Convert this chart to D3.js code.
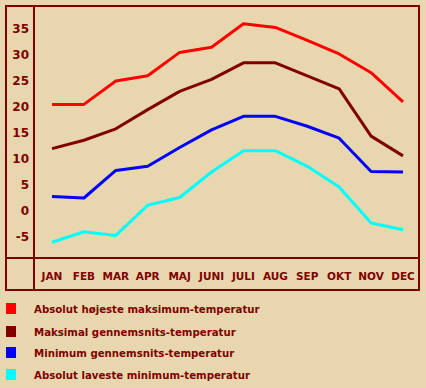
<!DOCTYPE html>
<html>
<head>
<meta charset="utf-8">
<script src="https://cdn.jsdelivr.net/npm/d3@7"></script>
<style>
  body { margin: 0; background: #e8d7ae; }
  svg { display: block; }
  text { font-family: "DejaVu Sans", Verdana, sans-serif; font-weight: bold; fill: #800000; }
</style>
</head>
<body>
<script>
var months = ["JAN", "FEB", "MAR", "APR", "MAJ", "JUNI", "JULI", "AUG", "SEP", "OKT", "NOV", "DEC"];
var absMax = [20.5, 20.5, 25, 26, 30.5, 31.5, 36, 35.3, 32.8, 30.2, 26.6, 21];
var meanMax = [12, 13.6, 15.8, 19.5, 23, 25.3, 28.5, 28.5, 26, 23.5, 14.4, 10.6];
var meanMin = [2.8, 2.5, 7.8, 8.6, 12.2, 15.6, 18.2, 18.2, 16.3, 14, 7.6, 7.5];
var absMin = [-6, -4, -4.7, 1.1, 2.6, 7.5, 11.6, 11.6, 8.6, 4.6, -2.3, -3.6];
var yTicks = [-5, 0, 5, 10, 15, 20, 25, 30, 35];
var seriesNames = [
  "Absolut højeste maksimum-temperatur",
  "Maksimal gennemsnits-temperatur",
  "Minimum gennemsnits-temperatur",
  "Absolut laveste minimum-temperatur"
];
var seriesColors = ["#ff0000", "#800000", "#0000ff", "#00ffff"];
var series = [absMax, meanMax, meanMin, absMin];

var W = 426, H = 388;
var frame = { left: 6, top: 6, right: 419, bottom: 290, axisX: 34, axisY: 258 };

var svg = d3.select("body").append("svg")
    .attr("width", W)
    .attr("height", H);

var x = d3.scalePoint()
    .domain(months)
    .range([52, 403]);

var y = d3.scaleLinear()
    .domain([0, 35])
    .range([211, 29]);

// frame
var g = svg.append("g").attr("class", "frame")
    .attr("stroke", "#800000")
    .attr("stroke-width", 2)
    .attr("fill", "none");
g.append("rect")
    .attr("x", frame.left)
    .attr("y", frame.top)
    .attr("width", frame.right - frame.left)
    .attr("height", frame.bottom - frame.top);
g.append("line")
    .attr("x1", frame.axisX).attr("x2", frame.axisX)
    .attr("y1", frame.top).attr("y2", frame.bottom);
g.append("line")
    .attr("x1", frame.left).attr("x2", frame.right)
    .attr("y1", frame.axisY).attr("y2", frame.axisY);

// y labels
svg.append("g").selectAll("text")
    .data(yTicks)
    .enter().append("text")
    .attr("x", 29)
    .attr("y", function (d) { return y(d); })
    .attr("dy", "0.36em")
    .attr("text-anchor", "end")
    .style("font-size", "12px")
    .text(function (d) { return d; });

// x labels
svg.append("g").selectAll("text")
    .data(months)
    .enter().append("text")
    .attr("x", function (d) { return x(d); })
    .attr("y", 280)
    .attr("text-anchor", "middle")
    .style("font-size", "10.5px")
    .text(function (d) { return d; });

// lines
var line = d3.line()
    .x(function (d, i) { return x(months[i]); })
    .y(function (d) { return y(d); });

svg.append("g").selectAll("path")
    .data(series)
    .enter().append("path")
    .attr("d", line)
    .attr("fill", "none")
    .attr("stroke", function (d, i) { return seriesColors[i]; })
    .attr("stroke-width", 3)
    .attr("stroke-linejoin", "round");

// legend
var legendY = [309, 332, 353, 375];
var leg = svg.append("g").selectAll("g")
    .data(seriesNames)
    .enter().append("g")
    .attr("transform", function (d, i) { return "translate(0," + legendY[i] + ")"; });
leg.append("rect")
    .attr("x", 6)
    .attr("y", -6)
    .attr("width", 10)
    .attr("height", 11)
    .attr("fill", function (d, i) { return seriesColors[i]; });
leg.append("text")
    .attr("x", 34)
    .attr("dy", "0.36em")
    .style("font-size", "10.2px")
    .text(function (d) { return d; });
</script>
</body>
</html>
